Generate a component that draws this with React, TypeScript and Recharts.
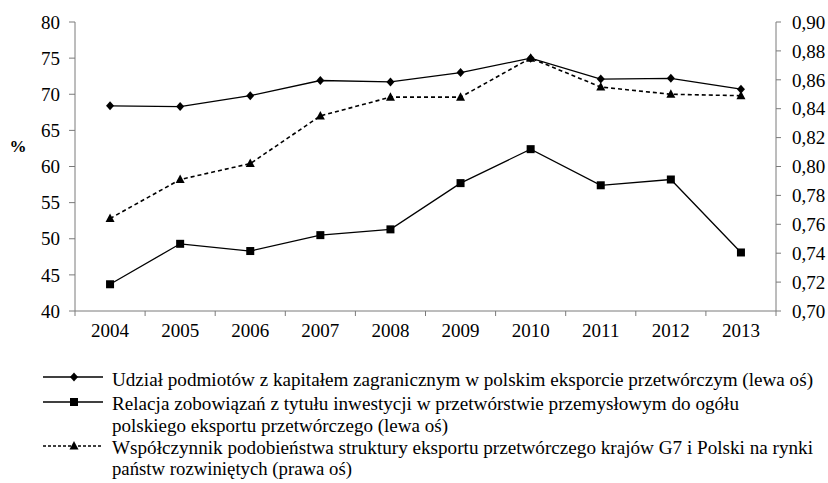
import React from 'react';
import { LineChart, Line, XAxis, YAxis } from 'recharts';

const categories = ['2004', '2005', '2006', '2007', '2008', '2009', '2010', '2011', '2012', '2013'];
const udzial = [68.4, 68.3, 69.8, 71.9, 71.7, 73.0, 75.0, 72.1, 72.2, 70.7];
const relacja = [43.7, 49.3, 48.3, 50.5, 51.3, 57.7, 62.4, 57.4, 58.2, 48.1];
const wspolczynnik = [0.764, 0.791, 0.802, 0.835, 0.848, 0.848, 0.875, 0.855, 0.85, 0.849];

const leftTicks = [40, 45, 50, 55, 60, 65, 70, 75, 80];
const rightTicks = [0.7, 0.72, 0.74, 0.76, 0.78, 0.8, 0.82, 0.84, 0.86, 0.88, 0.9];
const boundaryTicks = [0, 1, 2, 3, 4, 5, 6, 7, 8, 9, 10];
const centerTicks = categories.map((_, i) => i + 0.5);

const legendLabels = [
  'Udział podmiotów z kapitałem zagranicznym w polskim eksporcie przetwórczym (lewa oś)',
  'Relacja zobowiązań z tytułu inwestycji w przetwórstwie przemysłowym do ogółu',
  'polskiego eksportu przetwórczego (lewa oś)',
  'Współczynnik podobieństwa struktury eksportu przetwórczego krajów G7 i Polski na rynki',
  'państw rozwiniętych (prawa oś)',
];

const data = categories.map((year, i) => ({
  x: i + 0.5,
  year,
  udzial: udzial[i],
  relacja: relacja[i],
  wspolczynnik: wspolczynnik[i],
}));

const FONT = '"Liberation Serif", "Times New Roman", serif';
const AXIS_COLOR = '#7a7a7a';

const Diamond = (props: any) => {
  const { cx, cy } = props;
  if (cx == null || cy == null) return null;
  return <polygon points={`${cx},${cy - 4.5} ${cx + 4},${cy} ${cx},${cy + 4.5} ${cx - 4},${cy}`} fill="#000" />;
};
const Square = (props: any) => {
  const { cx, cy } = props;
  if (cx == null || cy == null) return null;
  return <rect x={cx - 4} y={cy - 4} width={8} height={8} fill="#000" />;
};
const Triangle = (props: any) => {
  const { cx, cy } = props;
  if (cx == null || cy == null) return null;
  return <polygon points={`${cx},${cy - 5} ${cx + 4.5},${cy + 3.5} ${cx - 4.5},${cy + 3.5}`} fill="#000" />;
};

const fmtRight = (v: number) => v.toFixed(2).replace('.', ',');

export default function App() {
  const tickStyle = { fontFamily: FONT, fontSize: 19, fill: '#000' };
  return (
    <div style={{ position: 'absolute', left: 0, top: 0, width: 828, height: 483, background: '#fff', fontFamily: FONT }}>
      <LineChart
        width={828}
        height={483}
        data={data}
        margin={{ top: 22, right: 0, bottom: 137, left: 0 }}
        style={{ fontFamily: FONT }}
      >
        <XAxis
          xAxisId="grid"
          dataKey="x"
          type="number"
          domain={[0, 10]}
          ticks={boundaryTicks}
          tickFormatter={() => ''}
          tickSize={5}
          height={5}
          stroke={AXIS_COLOR}
          allowDecimals
        />
        <XAxis
          xAxisId="lab"
          dataKey="x"
          type="number"
          domain={[0, 10]}
          ticks={centerTicks}
          tickFormatter={(v: number) => categories[Math.floor(v)]}
          axisLine={false}
          tickLine={false}
          tickSize={0}
          tickMargin={8}
          height={30}
          tick={tickStyle}
          interval={0}
          allowDecimals
        />
        <YAxis
          yAxisId="left"
          domain={[40, 80]}
          ticks={leftTicks}
          width={75}
          tickSize={6}
          tickMargin={9}
          stroke={AXIS_COLOR}
          tick={tickStyle}
          interval={0}
          label={(p: any) => (
            <text
              x={(p.viewBox?.x ?? 0) + 18}
              y={152}
              textAnchor="middle"
              fontFamily={FONT}
              fontSize={17}
              fontWeight="bold"
              fill="#000"
            >
              %
            </text>
          )}
        />
        <YAxis
          yAxisId="right"
          orientation="right"
          domain={[0.7, 0.9]}
          ticks={rightTicks}
          tickFormatter={fmtRight}
          width={52}
          tickSize={5}
          tickMargin={11}
          stroke={AXIS_COLOR}
          tick={tickStyle}
          interval={0}
        />
        <Line
          xAxisId="grid"
          yAxisId="left"
          dataKey="udzial"
          stroke="#000"
          strokeWidth={1.3}
          dot={<Diamond />}
          isAnimationActive={false}
        />
        <Line
          xAxisId="grid"
          yAxisId="left"
          dataKey="relacja"
          stroke="#000"
          strokeWidth={1.3}
          dot={<Square />}
          isAnimationActive={false}
        />
        <Line
          xAxisId="grid"
          yAxisId="right"
          dataKey="wspolczynnik"
          stroke="#000"
          strokeWidth={1.6}
          strokeDasharray="4 3"
          dot={<Triangle />}
          isAnimationActive={false}
        />
      </LineChart>
      <svg width={828} height={483} style={{ position: 'absolute', left: 0, top: 0, pointerEvents: 'none' }}>
        <line x1={43} x2={103} y1={377} y2={377} stroke="#000" strokeWidth={1.3} />
        <Diamond cx={74} cy={377} />
        <line x1={43} x2={103} y1={402} y2={402} stroke="#000" strokeWidth={1.3} />
        <Square cx={74} cy={402} />
        <line x1={43} x2={103} y1={446} y2={446} stroke="#000" strokeWidth={1.3} strokeDasharray="3 2" />
        <Triangle cx={74} cy={446} />
        {[
          { t: legendLabels[0], y: 386, w: 701 },
          { t: legendLabels[1], y: 410, w: 627 },
          { t: legendLabels[2], y: 432, w: 336 },
          { t: legendLabels[3], y: 454, w: 701 },
          { t: legendLabels[4], y: 475, w: 240 },
        ].map((r, i) => (
          <text
            key={i}
            x={112}
            y={r.y}
            fontFamily={FONT}
            fontSize={18}
            fill="#000"
            textLength={r.w}
            lengthAdjust="spacingAndGlyphs"
          >
            {r.t}
          </text>
        ))}
      </svg>
    </div>
  );
}
